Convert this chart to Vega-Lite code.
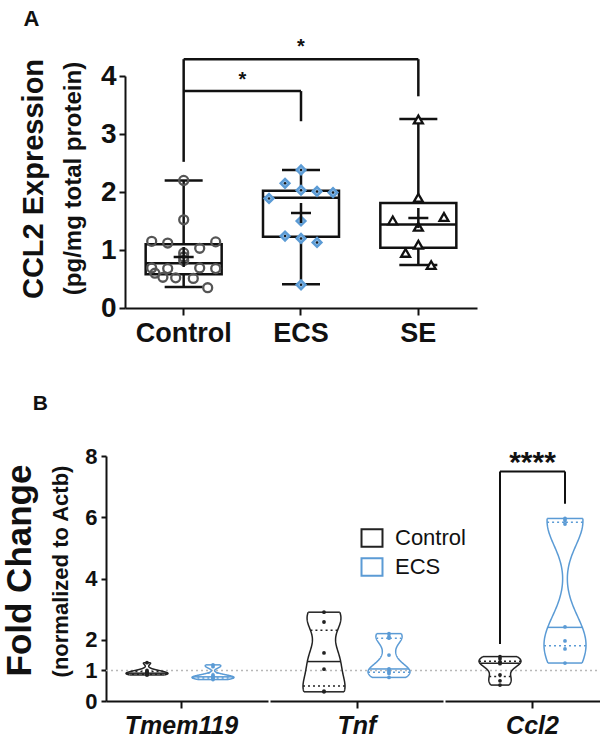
{
  "$schema": "https://vega.github.io/schema/vega-lite/v6.json",
  "background": "white",
  "padding": {"left": 2, "top": 8, "right": 2, "bottom": 0},
  "config": {
    "font": "Liberation Sans",
    "view": {"stroke": null},
    "axis": {"domainColor": "#111", "tickColor": "#111", "labelColor": "#111", "titleColor": "#111", "grid": false, "labelFont": "Liberation Sans", "titleFont": "Liberation Sans"},
    "title": {"font": "Liberation Sans", "color": "#111"},
    "legend": {"labelFont": "Liberation Sans"}
  },
  "datasets": {
    "elisa": [
      {"group": "Control", "value": 2.20, "lane": 0},
      {"group": "Control", "value": 1.52, "lane": 0},
      {"group": "Control", "value": 1.15, "lane": -2},
      {"group": "Control", "value": 1.12, "lane": -1},
      {"group": "Control", "value": 1.03, "lane": 1},
      {"group": "Control", "value": 1.14, "lane": 2},
      {"group": "Control", "value": 0.95, "lane": 0},
      {"group": "Control", "value": 0.88, "lane": 0},
      {"group": "Control", "value": 0.82, "lane": 0},
      {"group": "Control", "value": 0.69, "lane": -2},
      {"group": "Control", "value": 0.68, "lane": -1},
      {"group": "Control", "value": 0.69, "lane": 1},
      {"group": "Control", "value": 0.68, "lane": 2},
      {"group": "Control", "value": 0.60, "lane": -1.8},
      {"group": "Control", "value": 0.53, "lane": -1.3},
      {"group": "Control", "value": 0.52, "lane": -0.5},
      {"group": "Control", "value": 0.51, "lane": 0.6},
      {"group": "Control", "value": 0.35, "lane": 1.5},
      {"group": "ECS", "value": 2.38, "lane": 0},
      {"group": "ECS", "value": 2.15, "lane": -1},
      {"group": "ECS", "value": 2.03, "lane": 0},
      {"group": "ECS", "value": 2.01, "lane": 1},
      {"group": "ECS", "value": 1.99, "lane": 2},
      {"group": "ECS", "value": 1.89, "lane": -2},
      {"group": "ECS", "value": 1.50, "lane": 0},
      {"group": "ECS", "value": 1.24, "lane": -1},
      {"group": "ECS", "value": 1.20, "lane": 0},
      {"group": "ECS", "value": 1.13, "lane": 1},
      {"group": "ECS", "value": 0.40, "lane": 0},
      {"group": "SE", "value": 3.25, "lane": 0},
      {"group": "SE", "value": 1.90, "lane": 0},
      {"group": "SE", "value": 1.51, "lane": -1.6},
      {"group": "SE", "value": 1.57, "lane": 1.6},
      {"group": "SE", "value": 1.40, "lane": 0},
      {"group": "SE", "value": 1.09, "lane": 0},
      {"group": "SE", "value": 0.95, "lane": -0.8},
      {"group": "SE", "value": 0.74, "lane": 0.8}
    ],
    "boxes": [
      {"group": "Control", "min": 0.36, "q1": 0.58, "med": 0.77, "q3": 1.10, "max": 2.20, "mean": 0.88},
      {"group": "ECS", "min": 0.41, "q1": 1.23, "med": 1.90, "q3": 2.02, "max": 2.38, "mean": 1.64},
      {"group": "SE", "min": 0.74, "q1": 1.04, "med": 1.44, "q3": 1.81, "max": 3.26, "mean": 1.55}
    ],
    "sigA": [
      {"x1": "Control", "x2": "Control", "y1": 2.52, "y2": 4.29},
      {"x1": "Control", "x2": "SE", "y1": 4.29, "y2": 4.29},
      {"x1": "SE", "x2": "SE", "y1": 4.29, "y2": 3.65},
      {"x1": "Control", "x2": "ECS", "y1": 3.74, "y2": 3.74},
      {"x1": "ECS", "x2": "ECS", "y1": 3.74, "y2": 3.22}
    ],
    "qpcr": [
      {"gene": "Tmem119", "group": "Control", "value": 1.25},
      {"gene": "Tmem119", "group": "Control", "value": 1.00},
      {"gene": "Tmem119", "group": "Control", "value": 0.95},
      {"gene": "Tmem119", "group": "Control", "value": 0.92},
      {"gene": "Tmem119", "group": "Control", "value": 0.90},
      {"gene": "Tmem119", "group": "Control", "value": 0.88},
      {"gene": "Tmem119", "group": "Control", "value": 0.86},
      {"gene": "Tmem119", "group": "Control", "value": 0.85},
      {"gene": "Tmem119", "group": "ECS", "value": 1.18},
      {"gene": "Tmem119", "group": "ECS", "value": 1.12},
      {"gene": "Tmem119", "group": "ECS", "value": 0.85},
      {"gene": "Tmem119", "group": "ECS", "value": 0.80},
      {"gene": "Tmem119", "group": "ECS", "value": 0.78},
      {"gene": "Tmem119", "group": "ECS", "value": 0.76},
      {"gene": "Tmem119", "group": "ECS", "value": 0.74},
      {"gene": "Tmem119", "group": "ECS", "value": 0.70},
      {"gene": "Tnf", "group": "Control", "value": 2.90},
      {"gene": "Tnf", "group": "Control", "value": 2.58},
      {"gene": "Tnf", "group": "Control", "value": 1.57},
      {"gene": "Tnf", "group": "Control", "value": 1.04},
      {"gene": "Tnf", "group": "Control", "value": 0.32},
      {"gene": "Tnf", "group": "Control", "value": 0.30},
      {"gene": "Tnf", "group": "ECS", "value": 2.20},
      {"gene": "Tnf", "group": "ECS", "value": 2.10},
      {"gene": "Tnf", "group": "ECS", "value": 2.05},
      {"gene": "Tnf", "group": "ECS", "value": 1.50},
      {"gene": "Tnf", "group": "ECS", "value": 1.05},
      {"gene": "Tnf", "group": "ECS", "value": 1.00},
      {"gene": "Tnf", "group": "ECS", "value": 0.95},
      {"gene": "Tnf", "group": "ECS", "value": 0.90},
      {"gene": "Tnf", "group": "ECS", "value": 0.77},
      {"gene": "Ccl2", "group": "Control", "value": 1.45},
      {"gene": "Ccl2", "group": "Control", "value": 1.38},
      {"gene": "Ccl2", "group": "Control", "value": 1.28},
      {"gene": "Ccl2", "group": "Control", "value": 1.25},
      {"gene": "Ccl2", "group": "Control", "value": 1.22},
      {"gene": "Ccl2", "group": "Control", "value": 0.85},
      {"gene": "Ccl2", "group": "Control", "value": 0.66},
      {"gene": "Ccl2", "group": "Control", "value": 0.52},
      {"gene": "Ccl2", "group": "ECS", "value": 5.96},
      {"gene": "Ccl2", "group": "ECS", "value": 5.90},
      {"gene": "Ccl2", "group": "ECS", "value": 5.78},
      {"gene": "Ccl2", "group": "ECS", "value": 2.42},
      {"gene": "Ccl2", "group": "ECS", "value": 1.96},
      {"gene": "Ccl2", "group": "ECS", "value": 1.70},
      {"gene": "Ccl2", "group": "ECS", "value": 1.24},
      {"gene": "Ccl2", "group": "Control", "to": "ECS", "lo": 7.49, "hi": 7.49, "star": "****"},
      {"gene": "Ccl2", "group": "Control", "to": "Control", "lo": 1.86, "hi": 7.49},
      {"gene": "Ccl2", "group": "ECS", "to": "ECS", "lo": 6.44, "hi": 7.49}
    ]
  },
  "spacing": 47,
  "vconcat": [
    {
      "title": {"text": "A", "anchor": "start", "fontSize": 22, "fontWeight": "bold", "offset": 6, "dx": 3},
      "vconcat": [
        {
          "width": 371,
          "height": 232,
          "title": {"text": "CCL2 Expression", "orient": "left", "anchor": "middle", "frame": "group", "fontSize": 29, "fontWeight": "bold", "offset": 12, "dx": 13},
          "layer": [
            {
              "data": {"name": "sigA"},
              "mark": {"type": "rule", "color": "#111", "strokeWidth": 2.5},
              "encoding": {
                "x": {"field": "x1", "type": "nominal", "scale": {"domain": ["Control", "ECS", "SE"], "range": [19, 371], "paddingInner": 0, "paddingOuter": 0}, "axis": {"title": null, "labelAngle": 0, "labelFontSize": 27, "labelFontWeight": "bold", "tickSize": 7, "tickWidth": 2, "domainWidth": 2, "labelPadding": 5}},
                "x2": {"field": "x2"},
                "y": {"field": "y1", "type": "quantitative", "scale": {"domain": [0, 4], "nice": false}, "axis": {"values": [0, 1, 2, 3, 4], "format": "d", "offset": -19, "title": "(pg/mg total protein)", "titleFontSize": 24, "titleFontWeight": "bold", "titleY": 102, "labelFontSize": 28, "labelFontWeight": "bold", "tickSize": 6, "tickWidth": 2, "domainWidth": 2, "labelPadding": 3, "titlePadding": 15}},
                "y2": {"field": "y2"}
              }
            },
            {
              "data": {"values": [{"x": "ECS", "y": 4.5, "label": "*"}]},
              "mark": {"type": "text", "fontSize": 20, "fontWeight": "bold", "color": "#111"},
              "encoding": {"x": {"field": "x", "type": "nominal"}, "y": {"field": "y", "type": "quantitative"}, "text": {"field": "label"}}
            },
            {
              "data": {"values": [{"x": "Control", "y": 3.93, "label": "*"}]},
              "mark": {"type": "text", "fontSize": 20, "fontWeight": "bold", "color": "#111", "dx": 58.7},
              "encoding": {"x": {"field": "x", "type": "nominal"}, "y": {"field": "y", "type": "quantitative"}, "text": {"field": "label"}}
            },
            {
              "data": {"name": "boxes"},
              "mark": {"type": "bar", "fill": "transparent", "stroke": "#111", "strokeWidth": 2.5, "size": 76},
              "encoding": {"x": {"field": "group", "type": "nominal"}, "y": {"field": "q1", "type": "quantitative"}, "y2": {"field": "q3"}}
            },
            {
              "data": {"name": "boxes"},
              "mark": {"type": "rule", "color": "#111", "strokeWidth": 2.5},
              "encoding": {"x": {"field": "group", "type": "nominal"}, "y": {"field": "min", "type": "quantitative"}, "y2": {"field": "q1"}}
            },
            {
              "data": {"name": "boxes"},
              "mark": {"type": "rule", "color": "#111", "strokeWidth": 2.5},
              "encoding": {"x": {"field": "group", "type": "nominal"}, "y": {"field": "q3", "type": "quantitative"}, "y2": {"field": "max"}}
            },
            {
              "data": {"name": "boxes"},
              "mark": {"type": "tick", "orient": "horizontal", "size": 38, "thickness": 2.5, "color": "#111", "opacity": 1},
              "encoding": {"x": {"field": "group", "type": "nominal"}, "y": {"field": "min", "type": "quantitative"}}
            },
            {
              "data": {"name": "boxes"},
              "mark": {"type": "tick", "orient": "horizontal", "size": 38, "thickness": 2.5, "color": "#111", "opacity": 1},
              "encoding": {"x": {"field": "group", "type": "nominal"}, "y": {"field": "max", "type": "quantitative"}}
            },
            {
              "data": {"name": "boxes"},
              "mark": {"type": "tick", "orient": "horizontal", "size": 76, "thickness": 2.5, "color": "#111", "opacity": 1},
              "encoding": {"x": {"field": "group", "type": "nominal"}, "y": {"field": "med", "type": "quantitative"}}
            },
            {
              "data": {"name": "elisa"},
              "mark": {"type": "point", "filled": true, "strokeWidth": 2.3, "size": 80, "opacity": 1},
              "encoding": {
                "x": {"field": "group", "type": "nominal"},
                "xOffset": {"field": "lane", "type": "quantitative", "scale": {"domain": [-2, 2], "range": [26.7, 90.7]}},
                "y": {"field": "value", "type": "quantitative"},
                "shape": {"field": "group", "type": "nominal", "scale": {"domain": ["Control", "ECS", "SE"], "range": ["circle", "diamond", "triangle-up"]}, "legend": null},
                "stroke": {"field": "group", "type": "nominal", "scale": {"domain": ["Control", "ECS", "SE"], "range": ["#555555", "#5B9BD5", "#111111"]}, "legend": null},
                "fill": {"field": "group", "type": "nominal", "scale": {"domain": ["Control", "ECS", "SE"], "range": ["transparent", "#8EBCE6", "#ffffff"]}, "legend": null}
              }
            },
            {
              "data": {"name": "elisa"},
              "transform": [{"filter": "datum.group == 'ECS'"}],
              "mark": {"type": "point", "filled": true, "size": 6, "color": "#1a1a1a", "opacity": 1},
              "encoding": {
                "x": {"field": "group", "type": "nominal"},
                "xOffset": {"field": "lane", "type": "quantitative"},
                "y": {"field": "value", "type": "quantitative"}
              }
            },
            {
              "data": {"name": "boxes"},
              "mark": {"type": "point", "shape": "M-1,0L1,0M0,-1L0,1", "size": 400, "filled": false, "stroke": "#111", "strokeWidth": 2.5, "opacity": 1},
              "encoding": {"x": {"field": "group", "type": "nominal"}, "y": {"field": "mean", "type": "quantitative"}}
            }
          ]
        }
      ]
    },
    {
      "title": {"text": "B", "anchor": "start", "fontSize": 21, "fontWeight": "bold", "dx": 30, "offset": 31},
      "spacing": 0,
      "resolve": {"scale": {"color": "shared"}, "legend": {"color": "shared"}},
      "hconcat": [
        {
          "data": {"name": "qpcr"},
          "width": 162,
          "height": 245,
          "title": {"text": "Fold Change", "orient": "left", "anchor": "middle", "frame": "group", "fontSize": 35, "fontWeight": "bold", "offset": 12, "dx": 8},
          "transform": [
            {"filter": "datum.gene == 'Tmem119'"},
            {"joinaggregate": [{"op": "q1", "field": "value", "as": "q1"}, {"op": "median", "field": "value", "as": "med"}, {"op": "q3", "field": "value", "as": "q3"}], "groupby": ["group"]}
          ],
          "resolve": {"scale": {"x": "independent"}},
          "layer": [
            {
              "transform": [{"aggregate": [{"op": "count", "as": "n"}]}],
              "mark": {"type": "rule", "stroke": "#b8b8b8", "strokeWidth": 1.5, "strokeDash": [2, 3]},
              "encoding": {
                "x": {"datum": 0, "type": "quantitative", "scale": {"domain": [0, 1], "nice": false, "zero": false}, "axis": {"values": [0.463], "labels": false, "title": "Tmem119", "titleX": 75, "titleFontSize": 25, "titleFontWeight": "bold", "titleFontStyle": "italic", "titlePadding": 4, "tickSize": 7, "tickWidth": 2, "domainWidth": 2}},
                "x2": {"datum": 1},
                "y": {"datum": 1, "type": "quantitative", "scale": {"domain": [0, 8], "nice": false}, "axis": {"values": [0, 1, 2, 4, 6, 8], "format": "d", "title": "(normalized to Actb)", "titleY": 115, "titleFontSize": 22, "titleFontWeight": "bold", "labelFontSize": 22, "labelFontWeight": "bold", "tickSize": 5, "tickWidth": 2, "domainWidth": 2, "labelPadding": 4, "titlePadding": 12}}
              }
            },
            {
              "transform": [{"filter": "datum.group == 'Control' && isValid(datum.value)"}, {"density": "value", "groupby": ["group", "q1", "med", "q3"], "bandwidth": 0.07, "steps": 150}],
              "encoding": {"x": {"field": "density", "type": "quantitative", "scale": {"range": [41, 62], "zero": true, "nice": false}, "axis": null}, "y": {"field": "value", "type": "quantitative"}},
              "layer": [
                {"mark": {"type": "line", "stroke": "#222", "strokeWidth": 1.5}, "encoding": {"order": {"field": "value", "type": "quantitative"}}},
                {"transform": [{"joinaggregate": [{"op": "min", "field": "value", "as": "vmin"}, {"op": "max", "field": "value", "as": "vmax"}]}, {"filter": "datum.value == datum.vmin || datum.value == datum.vmax"}], "mark": {"type": "rule", "stroke": "#222", "strokeWidth": 1.5}, "encoding": {"x2": {"datum": 0}}},
                {"transform": [{"filter": "datum.value <= datum.med"}, {"joinaggregate": [{"op": "max", "field": "value", "as": "m"}]}, {"filter": "datum.value == datum.m"}], "mark": {"type": "rule", "stroke": "#222", "strokeWidth": 1.5}, "encoding": {"x2": {"datum": 0}}},
                {"transform": [{"filter": "datum.value <= datum.q1"}, {"joinaggregate": [{"op": "max", "field": "value", "as": "m"}]}, {"filter": "datum.value == datum.m"}], "mark": {"type": "rule", "stroke": "#222", "strokeWidth": 1.5, "strokeDash": [2, 3]}, "encoding": {"x2": {"datum": 0}}},
                {"transform": [{"filter": "datum.value <= datum.q3"}, {"joinaggregate": [{"op": "max", "field": "value", "as": "m"}]}, {"filter": "datum.value == datum.m"}], "mark": {"type": "rule", "stroke": "#222", "strokeWidth": 1.5, "strokeDash": [2, 3]}, "encoding": {"x2": {"datum": 0}}}
              ]
            },
            {
              "transform": [{"filter": "datum.group == 'Control' && isValid(datum.value)"}, {"density": "value", "groupby": ["group", "q1", "med", "q3"], "bandwidth": 0.07, "steps": 150}],
              "encoding": {"x": {"field": "density", "type": "quantitative", "scale": {"range": [41, 20], "zero": true, "nice": false}, "axis": null}, "y": {"field": "value", "type": "quantitative"}},
              "layer": [
                {"mark": {"type": "line", "stroke": "#222", "strokeWidth": 1.5}, "encoding": {"order": {"field": "value", "type": "quantitative"}}},
                {"transform": [{"joinaggregate": [{"op": "min", "field": "value", "as": "vmin"}, {"op": "max", "field": "value", "as": "vmax"}]}, {"filter": "datum.value == datum.vmin || datum.value == datum.vmax"}], "mark": {"type": "rule", "stroke": "#222", "strokeWidth": 1.5}, "encoding": {"x2": {"datum": 0}}},
                {"transform": [{"filter": "datum.value <= datum.med"}, {"joinaggregate": [{"op": "max", "field": "value", "as": "m"}]}, {"filter": "datum.value == datum.m"}], "mark": {"type": "rule", "stroke": "#222", "strokeWidth": 1.5}, "encoding": {"x2": {"datum": 0}}},
                {"transform": [{"filter": "datum.value <= datum.q1"}, {"joinaggregate": [{"op": "max", "field": "value", "as": "m"}]}, {"filter": "datum.value == datum.m"}], "mark": {"type": "rule", "stroke": "#222", "strokeWidth": 1.5, "strokeDash": [2, 3]}, "encoding": {"x2": {"datum": 0}}},
                {"transform": [{"filter": "datum.value <= datum.q3"}, {"joinaggregate": [{"op": "max", "field": "value", "as": "m"}]}, {"filter": "datum.value == datum.m"}], "mark": {"type": "rule", "stroke": "#222", "strokeWidth": 1.5, "strokeDash": [2, 3]}, "encoding": {"x2": {"datum": 0}}}
              ]
            },
            {
              "transform": [{"filter": "datum.group == 'ECS' && isValid(datum.value)"}, {"density": "value", "groupby": ["group", "q1", "med", "q3"], "bandwidth": 0.07, "steps": 150}],
              "encoding": {"x": {"field": "density", "type": "quantitative", "scale": {"range": [107, 128], "zero": true, "nice": false}, "axis": null}, "y": {"field": "value", "type": "quantitative"}},
              "layer": [
                {"mark": {"type": "line", "stroke": "#5B9BD5", "strokeWidth": 1.5}, "encoding": {"order": {"field": "value", "type": "quantitative"}}},
                {"transform": [{"joinaggregate": [{"op": "min", "field": "value", "as": "vmin"}, {"op": "max", "field": "value", "as": "vmax"}]}, {"filter": "datum.value == datum.vmin || datum.value == datum.vmax"}], "mark": {"type": "rule", "stroke": "#5B9BD5", "strokeWidth": 1.5}, "encoding": {"x2": {"datum": 0}}},
                {"transform": [{"filter": "datum.value <= datum.med"}, {"joinaggregate": [{"op": "max", "field": "value", "as": "m"}]}, {"filter": "datum.value == datum.m"}], "mark": {"type": "rule", "stroke": "#5B9BD5", "strokeWidth": 1.5}, "encoding": {"x2": {"datum": 0}}},
                {"transform": [{"filter": "datum.value <= datum.q1"}, {"joinaggregate": [{"op": "max", "field": "value", "as": "m"}]}, {"filter": "datum.value == datum.m"}], "mark": {"type": "rule", "stroke": "#5B9BD5", "strokeWidth": 1.5, "strokeDash": [2, 3]}, "encoding": {"x2": {"datum": 0}}},
                {"transform": [{"filter": "datum.value <= datum.q3"}, {"joinaggregate": [{"op": "max", "field": "value", "as": "m"}]}, {"filter": "datum.value == datum.m"}], "mark": {"type": "rule", "stroke": "#5B9BD5", "strokeWidth": 1.5, "strokeDash": [2, 3]}, "encoding": {"x2": {"datum": 0}}}
              ]
            },
            {
              "transform": [{"filter": "datum.group == 'ECS' && isValid(datum.value)"}, {"density": "value", "groupby": ["group", "q1", "med", "q3"], "bandwidth": 0.07, "steps": 150}],
              "encoding": {"x": {"field": "density", "type": "quantitative", "scale": {"range": [107, 86], "zero": true, "nice": false}, "axis": null}, "y": {"field": "value", "type": "quantitative"}},
              "layer": [
                {"mark": {"type": "line", "stroke": "#5B9BD5", "strokeWidth": 1.5}, "encoding": {"order": {"field": "value", "type": "quantitative"}}},
                {"transform": [{"joinaggregate": [{"op": "min", "field": "value", "as": "vmin"}, {"op": "max", "field": "value", "as": "vmax"}]}, {"filter": "datum.value == datum.vmin || datum.value == datum.vmax"}], "mark": {"type": "rule", "stroke": "#5B9BD5", "strokeWidth": 1.5}, "encoding": {"x2": {"datum": 0}}},
                {"transform": [{"filter": "datum.value <= datum.med"}, {"joinaggregate": [{"op": "max", "field": "value", "as": "m"}]}, {"filter": "datum.value == datum.m"}], "mark": {"type": "rule", "stroke": "#5B9BD5", "strokeWidth": 1.5}, "encoding": {"x2": {"datum": 0}}},
                {"transform": [{"filter": "datum.value <= datum.q1"}, {"joinaggregate": [{"op": "max", "field": "value", "as": "m"}]}, {"filter": "datum.value == datum.m"}], "mark": {"type": "rule", "stroke": "#5B9BD5", "strokeWidth": 1.5, "strokeDash": [2, 3]}, "encoding": {"x2": {"datum": 0}}},
                {"transform": [{"filter": "datum.value <= datum.q3"}, {"joinaggregate": [{"op": "max", "field": "value", "as": "m"}]}, {"filter": "datum.value == datum.m"}], "mark": {"type": "rule", "stroke": "#5B9BD5", "strokeWidth": 1.5, "strokeDash": [2, 3]}, "encoding": {"x2": {"datum": 0}}}
              ]
            },
            {
              "transform": [{"filter": "isValid(datum.value)"}],
              "mark": {"type": "point", "filled": false, "size": 4, "strokeWidth": 1.8, "opacity": 1},
              "encoding": {
                "x": {"field": "group", "type": "nominal", "scale": {"type": "point", "domain": ["Control", "ECS"], "range": [41, 107], "padding": 0}, "axis": null},
                "y": {"field": "value", "type": "quantitative"},
                "color": {"field": "group", "type": "nominal", "scale": {"domain": ["Control", "ECS"], "range": ["#222222", "#5B9BD5"]}, "legend": {"title": null, "orient": "none", "legendX": 255, "legendY": 451, "symbolType": "M-1.2,-1H1.2V1H-1.2Z", "symbolSize": 306, "symbolStrokeWidth": 2, "labelFontSize": 22, "labelColor": "#111", "labelOffset": 12, "rowPadding": 3}}
              }
            }
          ]
        },
        {
          "data": {"name": "qpcr"},
          "width": 173,
          "height": 245,
          "transform": [
            {"filter": "datum.gene == 'Tnf'"},
            {"joinaggregate": [{"op": "q1", "field": "value", "as": "q1"}, {"op": "median", "field": "value", "as": "med"}, {"op": "q3", "field": "value", "as": "q3"}], "groupby": ["group"]}
          ],
          "resolve": {"scale": {"x": "independent"}},
          "layer": [
            {
              "transform": [{"aggregate": [{"op": "count", "as": "n"}]}],
              "mark": {"type": "rule", "stroke": "#b8b8b8", "strokeWidth": 1.5, "strokeDash": [2, 3]},
              "encoding": {
                "x": {"datum": 0, "type": "quantitative", "scale": {"domain": [0, 1], "nice": false, "zero": false}, "axis": {"values": [0.5], "labels": false, "title": "Tnf", "titleX": 86.5, "titleFontSize": 25, "titleFontWeight": "bold", "titleFontStyle": "italic", "titlePadding": 4, "tickSize": 7, "tickWidth": 2, "domainWidth": 2}},
                "x2": {"datum": 1},
                "y": {"datum": 1, "type": "quantitative", "scale": {"domain": [0, 8], "nice": false}, "axis": null}
              }
            },
            {
              "transform": [{"filter": "datum.group == 'Control' && isValid(datum.value)"}, {"density": "value", "groupby": ["group", "q1", "med", "q3"], "bandwidth": 0.45, "steps": 150}],
              "encoding": {"x": {"field": "density", "type": "quantitative", "scale": {"range": [54, 75], "zero": true, "nice": false}, "axis": null}, "y": {"field": "value", "type": "quantitative", "axis": null}},
              "layer": [
                {"mark": {"type": "line", "stroke": "#222", "strokeWidth": 1.5}, "encoding": {"order": {"field": "value", "type": "quantitative"}}},
                {"transform": [{"joinaggregate": [{"op": "min", "field": "value", "as": "vmin"}, {"op": "max", "field": "value", "as": "vmax"}]}, {"filter": "datum.value == datum.vmin || datum.value == datum.vmax"}], "mark": {"type": "rule", "stroke": "#222", "strokeWidth": 1.5}, "encoding": {"x2": {"datum": 0}}},
                {"transform": [{"filter": "datum.value <= datum.med"}, {"joinaggregate": [{"op": "max", "field": "value", "as": "m"}]}, {"filter": "datum.value == datum.m"}], "mark": {"type": "rule", "stroke": "#222", "strokeWidth": 1.5}, "encoding": {"x2": {"datum": 0}}},
                {"transform": [{"filter": "datum.value <= datum.q1"}, {"joinaggregate": [{"op": "max", "field": "value", "as": "m"}]}, {"filter": "datum.value == datum.m"}], "mark": {"type": "rule", "stroke": "#222", "strokeWidth": 1.5, "strokeDash": [2, 3]}, "encoding": {"x2": {"datum": 0}}},
                {"transform": [{"filter": "datum.value <= datum.q3"}, {"joinaggregate": [{"op": "max", "field": "value", "as": "m"}]}, {"filter": "datum.value == datum.m"}], "mark": {"type": "rule", "stroke": "#222", "strokeWidth": 1.5, "strokeDash": [2, 3]}, "encoding": {"x2": {"datum": 0}}}
              ]
            },
            {
              "transform": [{"filter": "datum.group == 'Control' && isValid(datum.value)"}, {"density": "value", "groupby": ["group", "q1", "med", "q3"], "bandwidth": 0.45, "steps": 150}],
              "encoding": {"x": {"field": "density", "type": "quantitative", "scale": {"range": [54, 33], "zero": true, "nice": false}, "axis": null}, "y": {"field": "value", "type": "quantitative", "axis": null}},
              "layer": [
                {"mark": {"type": "line", "stroke": "#222", "strokeWidth": 1.5}, "encoding": {"order": {"field": "value", "type": "quantitative"}}},
                {"transform": [{"joinaggregate": [{"op": "min", "field": "value", "as": "vmin"}, {"op": "max", "field": "value", "as": "vmax"}]}, {"filter": "datum.value == datum.vmin || datum.value == datum.vmax"}], "mark": {"type": "rule", "stroke": "#222", "strokeWidth": 1.5}, "encoding": {"x2": {"datum": 0}}},
                {"transform": [{"filter": "datum.value <= datum.med"}, {"joinaggregate": [{"op": "max", "field": "value", "as": "m"}]}, {"filter": "datum.value == datum.m"}], "mark": {"type": "rule", "stroke": "#222", "strokeWidth": 1.5}, "encoding": {"x2": {"datum": 0}}},
                {"transform": [{"filter": "datum.value <= datum.q1"}, {"joinaggregate": [{"op": "max", "field": "value", "as": "m"}]}, {"filter": "datum.value == datum.m"}], "mark": {"type": "rule", "stroke": "#222", "strokeWidth": 1.5, "strokeDash": [2, 3]}, "encoding": {"x2": {"datum": 0}}},
                {"transform": [{"filter": "datum.value <= datum.q3"}, {"joinaggregate": [{"op": "max", "field": "value", "as": "m"}]}, {"filter": "datum.value == datum.m"}], "mark": {"type": "rule", "stroke": "#222", "strokeWidth": 1.5, "strokeDash": [2, 3]}, "encoding": {"x2": {"datum": 0}}}
              ]
            },
            {
              "transform": [{"filter": "datum.group == 'ECS' && isValid(datum.value)"}, {"density": "value", "groupby": ["group", "q1", "med", "q3"], "bandwidth": 0.25, "steps": 150}],
              "encoding": {"x": {"field": "density", "type": "quantitative", "scale": {"range": [119, 140], "zero": true, "nice": false}, "axis": null}, "y": {"field": "value", "type": "quantitative", "axis": null}},
              "layer": [
                {"mark": {"type": "line", "stroke": "#5B9BD5", "strokeWidth": 1.5}, "encoding": {"order": {"field": "value", "type": "quantitative"}}},
                {"transform": [{"joinaggregate": [{"op": "min", "field": "value", "as": "vmin"}, {"op": "max", "field": "value", "as": "vmax"}]}, {"filter": "datum.value == datum.vmin || datum.value == datum.vmax"}], "mark": {"type": "rule", "stroke": "#5B9BD5", "strokeWidth": 1.5}, "encoding": {"x2": {"datum": 0}}},
                {"transform": [{"filter": "datum.value <= datum.med"}, {"joinaggregate": [{"op": "max", "field": "value", "as": "m"}]}, {"filter": "datum.value == datum.m"}], "mark": {"type": "rule", "stroke": "#5B9BD5", "strokeWidth": 1.5}, "encoding": {"x2": {"datum": 0}}},
                {"transform": [{"filter": "datum.value <= datum.q1"}, {"joinaggregate": [{"op": "max", "field": "value", "as": "m"}]}, {"filter": "datum.value == datum.m"}], "mark": {"type": "rule", "stroke": "#5B9BD5", "strokeWidth": 1.5, "strokeDash": [2, 3]}, "encoding": {"x2": {"datum": 0}}},
                {"transform": [{"filter": "datum.value <= datum.q3"}, {"joinaggregate": [{"op": "max", "field": "value", "as": "m"}]}, {"filter": "datum.value == datum.m"}], "mark": {"type": "rule", "stroke": "#5B9BD5", "strokeWidth": 1.5, "strokeDash": [2, 3]}, "encoding": {"x2": {"datum": 0}}}
              ]
            },
            {
              "transform": [{"filter": "datum.group == 'ECS' && isValid(datum.value)"}, {"density": "value", "groupby": ["group", "q1", "med", "q3"], "bandwidth": 0.25, "steps": 150}],
              "encoding": {"x": {"field": "density", "type": "quantitative", "scale": {"range": [119, 98], "zero": true, "nice": false}, "axis": null}, "y": {"field": "value", "type": "quantitative", "axis": null}},
              "layer": [
                {"mark": {"type": "line", "stroke": "#5B9BD5", "strokeWidth": 1.5}, "encoding": {"order": {"field": "value", "type": "quantitative"}}},
                {"transform": [{"joinaggregate": [{"op": "min", "field": "value", "as": "vmin"}, {"op": "max", "field": "value", "as": "vmax"}]}, {"filter": "datum.value == datum.vmin || datum.value == datum.vmax"}], "mark": {"type": "rule", "stroke": "#5B9BD5", "strokeWidth": 1.5}, "encoding": {"x2": {"datum": 0}}},
                {"transform": [{"filter": "datum.value <= datum.med"}, {"joinaggregate": [{"op": "max", "field": "value", "as": "m"}]}, {"filter": "datum.value == datum.m"}], "mark": {"type": "rule", "stroke": "#5B9BD5", "strokeWidth": 1.5}, "encoding": {"x2": {"datum": 0}}},
                {"transform": [{"filter": "datum.value <= datum.q1"}, {"joinaggregate": [{"op": "max", "field": "value", "as": "m"}]}, {"filter": "datum.value == datum.m"}], "mark": {"type": "rule", "stroke": "#5B9BD5", "strokeWidth": 1.5, "strokeDash": [2, 3]}, "encoding": {"x2": {"datum": 0}}},
                {"transform": [{"filter": "datum.value <= datum.q3"}, {"joinaggregate": [{"op": "max", "field": "value", "as": "m"}]}, {"filter": "datum.value == datum.m"}], "mark": {"type": "rule", "stroke": "#5B9BD5", "strokeWidth": 1.5, "strokeDash": [2, 3]}, "encoding": {"x2": {"datum": 0}}}
              ]
            },
            {
              "transform": [{"filter": "isValid(datum.value)"}],
              "mark": {"type": "point", "filled": false, "size": 4, "strokeWidth": 1.8, "opacity": 1},
              "encoding": {
                "x": {"field": "group", "type": "nominal", "scale": {"type": "point", "domain": ["Control", "ECS"], "range": [54, 119], "padding": 0}, "axis": null},
                "y": {"field": "value", "type": "quantitative", "axis": null},
                "color": {"field": "group", "type": "nominal", "scale": {"domain": ["Control", "ECS"], "range": ["#222222", "#5B9BD5"]}, "legend": {"title": null, "orient": "none", "legendX": 255, "legendY": 451, "symbolType": "M-1.2,-1H1.2V1H-1.2Z", "symbolSize": 306, "symbolStrokeWidth": 2, "labelFontSize": 22, "labelColor": "#111", "labelOffset": 12, "rowPadding": 3}}
              }
            }
          ]
        },
        {
          "data": {"name": "qpcr"},
          "width": 165,
          "height": 245,
          "transform": [
            {"filter": "datum.gene == 'Ccl2'"},
            {"joinaggregate": [{"op": "q1", "field": "value", "as": "q1"}, {"op": "median", "field": "value", "as": "med"}, {"op": "q3", "field": "value", "as": "q3"}], "groupby": ["group"]}
          ],
          "resolve": {"scale": {"x": "independent"}},
          "layer": [
            {
              "transform": [{"aggregate": [{"op": "count", "as": "n"}]}],
              "mark": {"type": "rule", "stroke": "#b8b8b8", "strokeWidth": 1.5, "strokeDash": [2, 3]},
              "encoding": {
                "x": {"datum": 0, "type": "quantitative", "scale": {"domain": [0, 1], "nice": false, "zero": false}, "axis": {"values": [0.527], "labels": false, "title": "Ccl2", "titleX": 87, "titleFontSize": 25, "titleFontWeight": "bold", "titleFontStyle": "italic", "titlePadding": 4, "tickSize": 7, "tickWidth": 2, "domainWidth": 2}},
                "x2": {"datum": 1},
                "y": {"datum": 1, "type": "quantitative", "scale": {"domain": [0, 8], "nice": false}, "axis": null}
              }
            },
            {
              "transform": [{"filter": "datum.group == 'Control' && isValid(datum.value)"}, {"density": "value", "groupby": ["group", "q1", "med", "q3"], "bandwidth": 0.2, "steps": 150}],
              "encoding": {"x": {"field": "density", "type": "quantitative", "scale": {"range": [55, 76], "zero": true, "nice": false}, "axis": null}, "y": {"field": "value", "type": "quantitative", "axis": null}},
              "layer": [
                {"mark": {"type": "line", "stroke": "#222", "strokeWidth": 1.5}, "encoding": {"order": {"field": "value", "type": "quantitative"}}},
                {"transform": [{"joinaggregate": [{"op": "min", "field": "value", "as": "vmin"}, {"op": "max", "field": "value", "as": "vmax"}]}, {"filter": "datum.value == datum.vmin || datum.value == datum.vmax"}], "mark": {"type": "rule", "stroke": "#222", "strokeWidth": 1.5}, "encoding": {"x2": {"datum": 0}}},
                {"transform": [{"filter": "datum.value <= datum.med"}, {"joinaggregate": [{"op": "max", "field": "value", "as": "m"}]}, {"filter": "datum.value == datum.m"}], "mark": {"type": "rule", "stroke": "#222", "strokeWidth": 1.5}, "encoding": {"x2": {"datum": 0}}},
                {"transform": [{"filter": "datum.value <= datum.q1"}, {"joinaggregate": [{"op": "max", "field": "value", "as": "m"}]}, {"filter": "datum.value == datum.m"}], "mark": {"type": "rule", "stroke": "#222", "strokeWidth": 1.5, "strokeDash": [2, 3]}, "encoding": {"x2": {"datum": 0}}},
                {"transform": [{"filter": "datum.value <= datum.q3"}, {"joinaggregate": [{"op": "max", "field": "value", "as": "m"}]}, {"filter": "datum.value == datum.m"}], "mark": {"type": "rule", "stroke": "#222", "strokeWidth": 1.5, "strokeDash": [2, 3]}, "encoding": {"x2": {"datum": 0}}}
              ]
            },
            {
              "transform": [{"filter": "datum.group == 'Control' && isValid(datum.value)"}, {"density": "value", "groupby": ["group", "q1", "med", "q3"], "bandwidth": 0.2, "steps": 150}],
              "encoding": {"x": {"field": "density", "type": "quantitative", "scale": {"range": [55, 34], "zero": true, "nice": false}, "axis": null}, "y": {"field": "value", "type": "quantitative", "axis": null}},
              "layer": [
                {"mark": {"type": "line", "stroke": "#222", "strokeWidth": 1.5}, "encoding": {"order": {"field": "value", "type": "quantitative"}}},
                {"transform": [{"joinaggregate": [{"op": "min", "field": "value", "as": "vmin"}, {"op": "max", "field": "value", "as": "vmax"}]}, {"filter": "datum.value == datum.vmin || datum.value == datum.vmax"}], "mark": {"type": "rule", "stroke": "#222", "strokeWidth": 1.5}, "encoding": {"x2": {"datum": 0}}},
                {"transform": [{"filter": "datum.value <= datum.med"}, {"joinaggregate": [{"op": "max", "field": "value", "as": "m"}]}, {"filter": "datum.value == datum.m"}], "mark": {"type": "rule", "stroke": "#222", "strokeWidth": 1.5}, "encoding": {"x2": {"datum": 0}}},
                {"transform": [{"filter": "datum.value <= datum.q1"}, {"joinaggregate": [{"op": "max", "field": "value", "as": "m"}]}, {"filter": "datum.value == datum.m"}], "mark": {"type": "rule", "stroke": "#222", "strokeWidth": 1.5, "strokeDash": [2, 3]}, "encoding": {"x2": {"datum": 0}}},
                {"transform": [{"filter": "datum.value <= datum.q3"}, {"joinaggregate": [{"op": "max", "field": "value", "as": "m"}]}, {"filter": "datum.value == datum.m"}], "mark": {"type": "rule", "stroke": "#222", "strokeWidth": 1.5, "strokeDash": [2, 3]}, "encoding": {"x2": {"datum": 0}}}
              ]
            },
            {
              "transform": [{"filter": "datum.group == 'ECS' && isValid(datum.value)"}, {"density": "value", "groupby": ["group", "q1", "med", "q3"], "bandwidth": 0.8, "steps": 150}],
              "encoding": {"x": {"field": "density", "type": "quantitative", "scale": {"range": [120, 141], "zero": true, "nice": false}, "axis": null}, "y": {"field": "value", "type": "quantitative", "axis": null}},
              "layer": [
                {"mark": {"type": "line", "stroke": "#5B9BD5", "strokeWidth": 1.5}, "encoding": {"order": {"field": "value", "type": "quantitative"}}},
                {"transform": [{"joinaggregate": [{"op": "min", "field": "value", "as": "vmin"}, {"op": "max", "field": "value", "as": "vmax"}]}, {"filter": "datum.value == datum.vmin || datum.value == datum.vmax"}], "mark": {"type": "rule", "stroke": "#5B9BD5", "strokeWidth": 1.5}, "encoding": {"x2": {"datum": 0}}},
                {"transform": [{"filter": "datum.value <= datum.med"}, {"joinaggregate": [{"op": "max", "field": "value", "as": "m"}]}, {"filter": "datum.value == datum.m"}], "mark": {"type": "rule", "stroke": "#5B9BD5", "strokeWidth": 1.5}, "encoding": {"x2": {"datum": 0}}},
                {"transform": [{"filter": "datum.value <= datum.q1"}, {"joinaggregate": [{"op": "max", "field": "value", "as": "m"}]}, {"filter": "datum.value == datum.m"}], "mark": {"type": "rule", "stroke": "#5B9BD5", "strokeWidth": 1.5, "strokeDash": [2, 3]}, "encoding": {"x2": {"datum": 0}}},
                {"transform": [{"filter": "datum.value <= datum.q3"}, {"joinaggregate": [{"op": "max", "field": "value", "as": "m"}]}, {"filter": "datum.value == datum.m"}], "mark": {"type": "rule", "stroke": "#5B9BD5", "strokeWidth": 1.5, "strokeDash": [2, 3]}, "encoding": {"x2": {"datum": 0}}}
              ]
            },
            {
              "transform": [{"filter": "datum.group == 'ECS' && isValid(datum.value)"}, {"density": "value", "groupby": ["group", "q1", "med", "q3"], "bandwidth": 0.8, "steps": 150}],
              "encoding": {"x": {"field": "density", "type": "quantitative", "scale": {"range": [120, 99], "zero": true, "nice": false}, "axis": null}, "y": {"field": "value", "type": "quantitative", "axis": null}},
              "layer": [
                {"mark": {"type": "line", "stroke": "#5B9BD5", "strokeWidth": 1.5}, "encoding": {"order": {"field": "value", "type": "quantitative"}}},
                {"transform": [{"joinaggregate": [{"op": "min", "field": "value", "as": "vmin"}, {"op": "max", "field": "value", "as": "vmax"}]}, {"filter": "datum.value == datum.vmin || datum.value == datum.vmax"}], "mark": {"type": "rule", "stroke": "#5B9BD5", "strokeWidth": 1.5}, "encoding": {"x2": {"datum": 0}}},
                {"transform": [{"filter": "datum.value <= datum.med"}, {"joinaggregate": [{"op": "max", "field": "value", "as": "m"}]}, {"filter": "datum.value == datum.m"}], "mark": {"type": "rule", "stroke": "#5B9BD5", "strokeWidth": 1.5}, "encoding": {"x2": {"datum": 0}}},
                {"transform": [{"filter": "datum.value <= datum.q1"}, {"joinaggregate": [{"op": "max", "field": "value", "as": "m"}]}, {"filter": "datum.value == datum.m"}], "mark": {"type": "rule", "stroke": "#5B9BD5", "strokeWidth": 1.5, "strokeDash": [2, 3]}, "encoding": {"x2": {"datum": 0}}},
                {"transform": [{"filter": "datum.value <= datum.q3"}, {"joinaggregate": [{"op": "max", "field": "value", "as": "m"}]}, {"filter": "datum.value == datum.m"}], "mark": {"type": "rule", "stroke": "#5B9BD5", "strokeWidth": 1.5, "strokeDash": [2, 3]}, "encoding": {"x2": {"datum": 0}}}
              ]
            },
            {
              "encoding": {
                "x": {"field": "group", "type": "nominal", "scale": {"type": "point", "domain": ["Control", "ECS"], "range": [55, 120], "padding": 0}, "axis": null}
              },
              "layer": [
                {
                  "transform": [{"filter": "isValid(datum.value)"}],
                  "mark": {"type": "point", "filled": false, "size": 4, "strokeWidth": 1.8, "opacity": 1},
                  "encoding": {
                    "y": {"field": "value", "type": "quantitative", "axis": null},
                    "color": {"field": "group", "type": "nominal", "scale": {"domain": ["Control", "ECS"], "range": ["#222222", "#5B9BD5"]}, "legend": {"title": null, "orient": "none", "legendX": 255, "legendY": 451, "symbolType": "M-1.2,-1H1.2V1H-1.2Z", "symbolSize": 306, "symbolStrokeWidth": 2, "labelFontSize": 22, "labelColor": "#111", "labelOffset": 12, "rowPadding": 3}}
                  }
                },
                {
                  "transform": [{"filter": "isValid(datum.lo)"}],
                  "mark": {"type": "rule", "color": "#111", "strokeWidth": 2},
                  "encoding": {"x2": {"field": "to"}, "y": {"field": "lo", "type": "quantitative", "axis": null}, "y2": {"field": "hi"}}
                },
                {
                  "transform": [{"filter": "isValid(datum.star)"}],
                  "mark": {"type": "text", "dx": 32.5, "dy": -9, "fontSize": 30, "fontWeight": "bold", "color": "#111"},
                  "encoding": {"y": {"field": "hi", "type": "quantitative", "axis": null}, "text": {"field": "star"}}
                }
              ]
            }
          ]
        }
      ]
    }
  ]
}
